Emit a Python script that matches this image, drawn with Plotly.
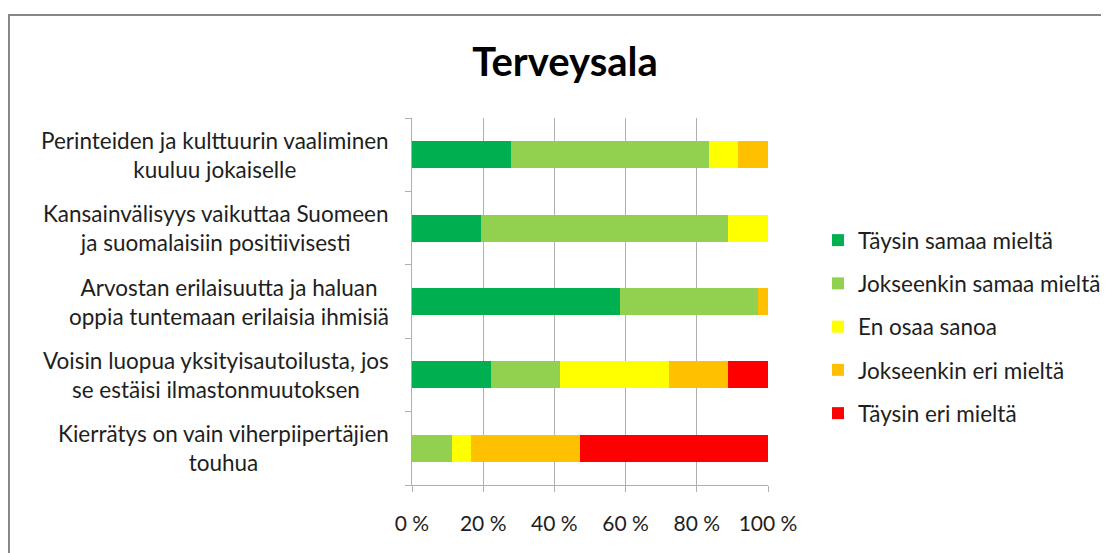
import plotly.graph_objects as go

title = "Terveysala"
categories = [
    "Perinteiden ja kulttuurin vaaliminen<br>kuuluu jokaiselle",
    "Kansainvälisyys vaikuttaa Suomeen<br>ja suomalaisiin positiivisesti",
    "Arvostan erilaisuutta ja haluan<br>oppia tuntemaan erilaisia ihmisiä",
    "Voisin luopua yksityisautoilusta, jos<br>se estäisi ilmastonmuutoksen",
    "Kierrätys on vain viherpiipertäjien<br>touhua",
]
series_names = [
    "Täysin samaa mieltä",
    "Jokseenkin samaa mieltä",
    "En osaa sanoa",
    "Jokseenkin eri mieltä",
    "Täysin eri mieltä",
]
taysin_samaa = [27.8, 19.4, 58.3, 22.2, 0.0]
jokseenkin_samaa = [55.6, 69.4, 38.9, 19.4, 11.1]
en_osaa = [8.3, 11.2, 0.0, 30.6, 5.6]
jokseenkin_eri = [8.3, 0.0, 2.8, 16.7, 30.5]
taysin_eri = [0.0, 0.0, 0.0, 11.1, 52.8]
colors = ["#00B050", "#92D050", "#FFFF00", "#FFC000", "#FF0000"]
x_tickvals = [0, 20, 40, 60, 80, 100]
x_ticktext = ["0 %", "20 %", "40 %", "60 %", "80 %", "100 %"]

FONT = "Lato, 'Open Sans', sans-serif"
TXT = "#1e1e1e"
GRID = "#b0b0b0"

series_values = [taysin_samaa, jokseenkin_samaa, en_osaa, jokseenkin_eri, taysin_eri]
ypos = list(range(len(categories)))

# page body has an 8px margin; work in reference pixel coords and shift
OFF = 8
W, H = 1109 - OFF, 553 - OFF
PL, PR, PT, PB = 412, 768, 118, 485  # plot area in reference pixels
L, R, T, B = PL - OFF, W - (PR - OFF), PT - OFF, H - (PB - OFF)
pw, ph = PR - PL, PB - PT

def px_x(p):
    return (p - PL) / pw

def px_y(p):
    return (PB - p) / ph

fig = go.Figure()
for i, (name, vals, col) in enumerate(zip(series_names, series_values, colors)):
    fig.add_trace(go.Bar(
        x=vals, y=ypos, orientation="h", name=name,
        marker=dict(color=col, line=dict(width=0)),
        width=0.37, legendgroup=f"g{i}",
    ))

for i, cat in enumerate(categories):
    fig.add_annotation(
        x=px_x(391), xref="paper", y=i, yref="y",
        text=cat, showarrow=False, xanchor="right", yanchor="middle",
        align="center", font=dict(family=FONT, size=22.5, color=TXT),
    )

fig.add_shape(type="rect", xref="paper", yref="paper",
              x0=px_x(9), x1=px_x(1130), y0=px_y(575), y1=px_y(15),
              line=dict(color="#878787", width=2), fillcolor="rgba(0,0,0,0)", layer="below")

fig.update_layout(
    width=W, height=H,
    margin=dict(l=L, r=R, t=T, b=B, autoexpand=False),
    paper_bgcolor="white", plot_bgcolor="white",
    barmode="stack", bargap=0.63,
    title=dict(text=f"<b>{title}</b>", x=(565 - OFF) / W, xanchor="center",
               y=1 - (62 - OFF) / H, yanchor="middle",
               font=dict(family=FONT, size=40, color="#000000")),
    xaxis=dict(range=[0, 100], tickvals=x_tickvals, ticktext=x_ticktext,
               showgrid=True, gridcolor=GRID, gridwidth=1,
               showline=True, linecolor=GRID, linewidth=1,
               ticks="outside", ticklen=6, tickcolor=GRID,
               ticklabelstandoff=14,
               tickfont=dict(family=FONT, size=21, color=TXT), zeroline=False),
    yaxis=dict(range=[4.5, -0.5], tickvals=[-0.5, 0.5, 1.5, 2.5, 3.5, 4.5],
               showticklabels=False, showgrid=False,
               showline=True, linecolor=GRID, linewidth=1,
               ticks="outside", ticklen=6, tickcolor=GRID, zeroline=False),
    legend=dict(x=px_x(818), xanchor="left", y=px_y(327), yanchor="middle",
                traceorder="grouped", tracegroupgap=11,
                font=dict(family=FONT, size=22.5, color=TXT),
                bgcolor="rgba(0,0,0,0)"),
    showlegend=True,
)

fig.write_html("out.html")
